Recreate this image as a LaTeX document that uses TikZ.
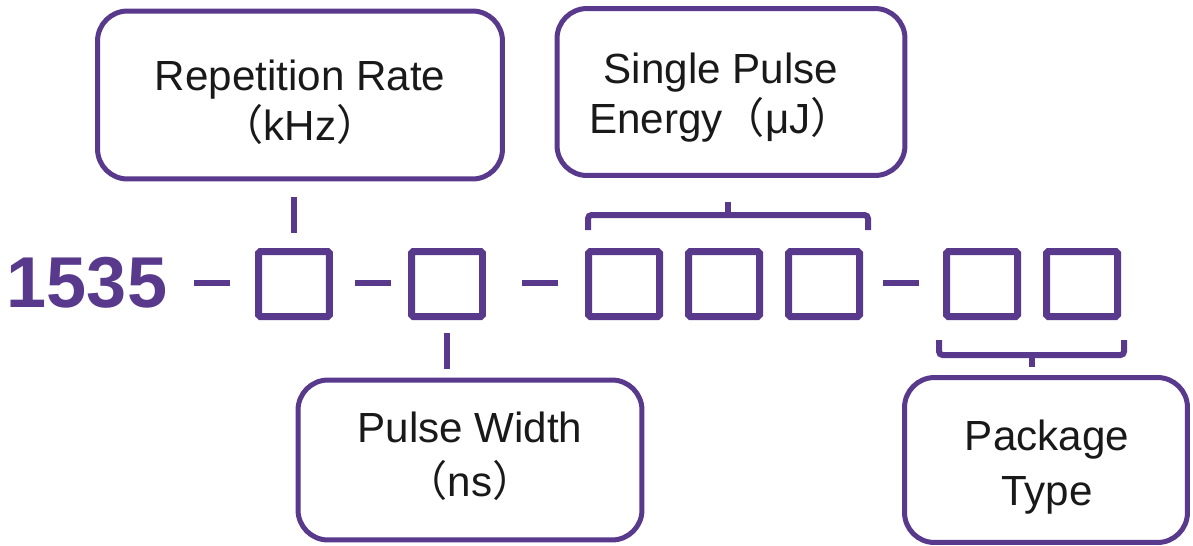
\documentclass[tikz,border=0pt]{standalone}
\usepackage{fontspec}
\setmainfont{Liberation Sans}
\newfontfamily\cjk{Noto Sans CJK SC}
\usetikzlibrary{calc}
\definecolor{codepurple}{RGB}{88,57,140}
\begin{document}
\begin{tikzpicture}[x=0.02cm,y=-0.02cm,
 slot/.style={draw=codepurple,line width=0.14cm,rounded corners=1pt,minimum width=1.42cm,minimum height=1.3cm,inner sep=0pt},
 infobox/.style={draw=codepurple,line width=0.1cm,rounded corners=0.6cm},
 boxtext/.style={align=center,text=black!90,font=\fontsize{24}{28.5}\selectfont},
 link/.style={codepurple,line width=0.12cm},
 joiner/.style={fill=codepurple,minimum width=0.72cm,minimum height=0.12cm,inner sep=0pt}]
 \useasboundingbox (0,0) rectangle (1193,545);
 \node[text=codepurple,font=\fontsize{41}{41}\selectfont\bfseries] (code) at (87,283) {1535};
 \node[joiner] (j1) at (212,283) {};
 \node[slot] (s1) at (294,284) {};
 \node[joiner] (j2) at (373,283) {};
 \node[slot] (s2) at (447,284) {};
 \node[joiner] (j3) at (540,283) {};
 \node[slot] (s3) at (624,284) {};
 \node[slot] (s4) at (724,284) {};
 \node[slot] (s5) at (824,284) {};
 \node[joiner] (j4) at (901,283) {};
 \node[slot] (s6) at (982,284) {};
 \node[slot] (s7) at (1082,284) {};
 \node[infobox,minimum width=8.1cm,minimum height=3.36cm] (rate) at (300,95) {};
 \node[boxtext] (ratetext) at (300,102) {Repetition Rate\\{\cjk （}kHz{\cjk ）}};
 \node[infobox,minimum width=6.96cm,minimum height=3.34cm] (energy) at (731,92) {};
 \node[boxtext] (energytext) at (721,98) {Single Pulse\\Energy{\cjk （}μJ{\cjk ）}};
 \node[infobox,minimum width=6.88cm,minimum height=3.2cm] (width) at (470,460) {};
 \node[boxtext,font=\fontsize{24}{31}\selectfont] (widthtext) at (470,456) {Pulse Width\\{\cjk （}ns{\cjk ）}};
 \node[infobox,minimum width=5.66cm,minimum height=3.3cm] (package) at (1046,460) {};
 \node[boxtext,font=\fontsize{24}{31.5}\selectfont] (packagetext) at (1047,467) {Package\\Type};
 \draw[link,shorten <=0.3cm,shorten >=0.32cm] (s1.north) -- (s1.north |- rate.south);
 \draw[link,shorten <=0.26cm,shorten >=0.18cm] (s2.south) -- (s2.south |- width.north);
 \draw[link,rounded corners=2pt] ($(s3.north west)+(3,-18)$) |- ($(s5.north east)+(5,-33)$) -- ($(s5.north east)+(5,-18)$);
 \coordinate (ebrace) at ($(s3.north west)!0.5!(s5.north east)+(4,-33)$);
 \draw[link,shorten >=0.48cm] (ebrace) -- (ebrace |- energy.south);
 \draw[link,rounded corners=2pt] ($(s6.south west)+(-4,20)$) |- ($(s7.south east)+(3,35)$) -- ($(s7.south east)+(3,20)$);
 \coordinate (pbrace) at ($(s6.south west)!0.5!(s7.south east)+(0,35)$);
 \draw[link,shorten >=0.16cm] (pbrace) -- (pbrace |- package.north);
\end{tikzpicture}
\end{document}
